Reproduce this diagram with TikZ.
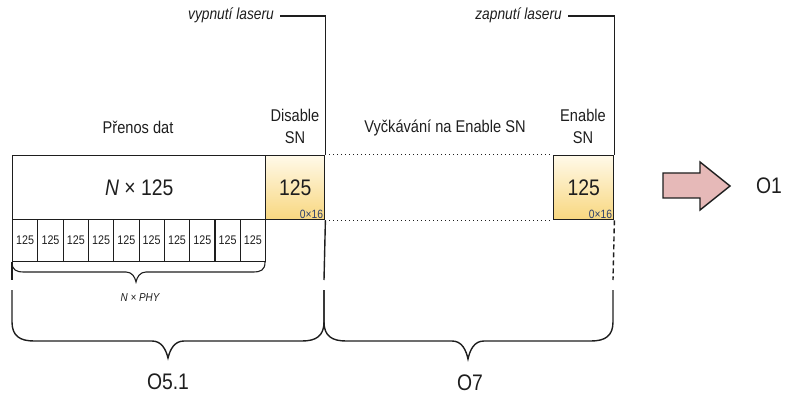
\documentclass[tikz,border=0pt]{standalone}
\usepackage{fontspec}
\setmainfont{Liberation Sans}[FakeStretch=0.86]
\usetikzlibrary{calc}
\definecolor{boxtop}{HTML}{FFF9E8}
\definecolor{boxbot}{HTML}{F8D77F}
\definecolor{hexblue}{HTML}{2E3F6B}
\definecolor{arrowpink}{HTML}{E6B9B8}
\definecolor{ink}{HTML}{1E1E1E}
\newcommand\flab{\fontsize{17}{22}\selectfont}
\newcommand\fbig{\fontsize{22.5}{26}\selectfont}
\newcommand\fcell{\fontsize{12.5}{14}\selectfont}
\newcommand\ftiny{\fontsize{12}{13}\selectfont}
\newcommand\fphy{\fontsize{11.5}{13}\selectfont}
\newcommand\fnote{\fontsize{16}{18}\selectfont}
\begin{document}
\begin{tikzpicture}[x=1pt,y=-1pt,
  every node/.style={text=ink, inner sep=0pt},
  frame/.style={draw=ink, line width=1.4pt},
  snbox/.style={frame, top color=boxtop, bottom color=boxbot, minimum width=59pt, minimum height=64pt, anchor=north west, font=\fbig},
  cellbox/.style={frame, line width=1.1pt, minimum width=25.3pt, minimum height=42pt, anchor=north west, font=\fcell},
  hexlab/.style={anchor=south east, font=\ftiny, text=hexblue},
  lbl/.style={font=\flab, align=center},
  olbl/.style={font=\fbig},
  laserlbl/.style={font=\fnote\itshape, anchor=east},
  bracep/.style={draw=ink, line width=1.4pt},
  marker/.style={draw=ink, line width=1.4pt},
  dotline/.style={draw=ink, line width=1pt, dash pattern=on 1pt off 3pt}
]
\useasboundingbox (0,0) rectangle (795,398);

% main block
\node[frame, minimum width=253pt, minimum height=64pt, anchor=north west, font=\fbig] (main) at (12,155) {\textit{N} × 125};
\node[snbox] (dis) at (265,155) {125};
\node[hexlab] (dishex) at ($(dis.south east)+(-2,-1.5)$) {0×16};
\node[snbox, minimum width=60pt] (en) at (553,155) {125};
\node[hexlab] (enhex) at ($(en.south east)+(-2,-1.5)$) {0×16};

% cells
\foreach \i in {0,...,9}
  \node[cellbox] (c\i) at ({12+25.3*\i},219) {125};

% dotted
\draw[dotline] (dis.north east) -- (en.north west);
\draw[dotline] (dis.south east) -- (en.south west);

% labels
\node[lbl] (pren) at (138,127) {Přenos dat};
\node[lbl] (dislab) at (295,126) {Disable\\SN};
\node[lbl] (wait) at (445,128) {Vyčkávání na Enable SN};
\node[lbl] (enlab) at (583,126) {Enable\\SN};

% laser markers
\node[laserlbl] (off) at (274,15) {vypnutí laseru};
\node[laserlbl] (on) at (562,15) {zapnutí laseru};
\coordinate (offend) at (324,280);
\coordinate (onend) at (613,280);
\coordinate (leftend) at (12,280);
\draw[marker] ($(off.east)+(6,1)$) -| (dis.north east);
\draw[marker] (dis.south east) -- (offend);
\draw[marker] ($(on.east)+(6,1)$) -| (en.north east);
\draw[marker, dash pattern=on 5pt off 3pt] (en.south east) -- (onend);
\draw[marker, line width=1.1pt] (c0.south west) -- (leftend);

% small brace
\draw[bracep, line width=1.1pt] (12,262) .. controls (12,270) and (16,272) .. (24,272) -- (126,272)
  .. controls (132,272) and (135,277) .. (136,282) .. controls (137,277) and (140,272) .. (146,272)
  -- (253,272) .. controls (261,272) and (265,270) .. (265,262);
\node[font=\fphy\itshape] (phy) at (140,298) {\textit{N} × \textit{PHY}};

% big braces
\draw[bracep] (12,290) -- (12,322) .. controls (12,336) and (20,341) .. (34,341) -- (152,341)
  .. controls (162,341) and (166,350) .. (168,358) .. controls (170,350) and (174,341) .. (184,341)
  -- (302,341) .. controls (316,341) and (324,336) .. (324,322) -- (324,290);
\draw[bracep] (324,290) -- (324,322) .. controls (324,336) and (332,341) .. (346,341) -- (452,341)
  .. controls (462,341) and (466,350) .. (468,359) .. controls (470,350) and (474,341) .. (484,341)
  -- (591,341) .. controls (605,341) and (613,336) .. (613,322) -- (613,290);
\node[olbl] (o51) at (168,382) {O5.1};
\node[olbl] (o7) at (470,383) {O7};

% arrow
\draw[line width=1.4pt, draw=ink, fill=arrowpink, line join=miter] (663,173) -- (700,173) -- (700,162) -- (730,186) -- (700,210) -- (700,198) -- (663,198) -- cycle;
\node[olbl] (o1) at (769,186) {O1};
\end{tikzpicture}
\end{document}
